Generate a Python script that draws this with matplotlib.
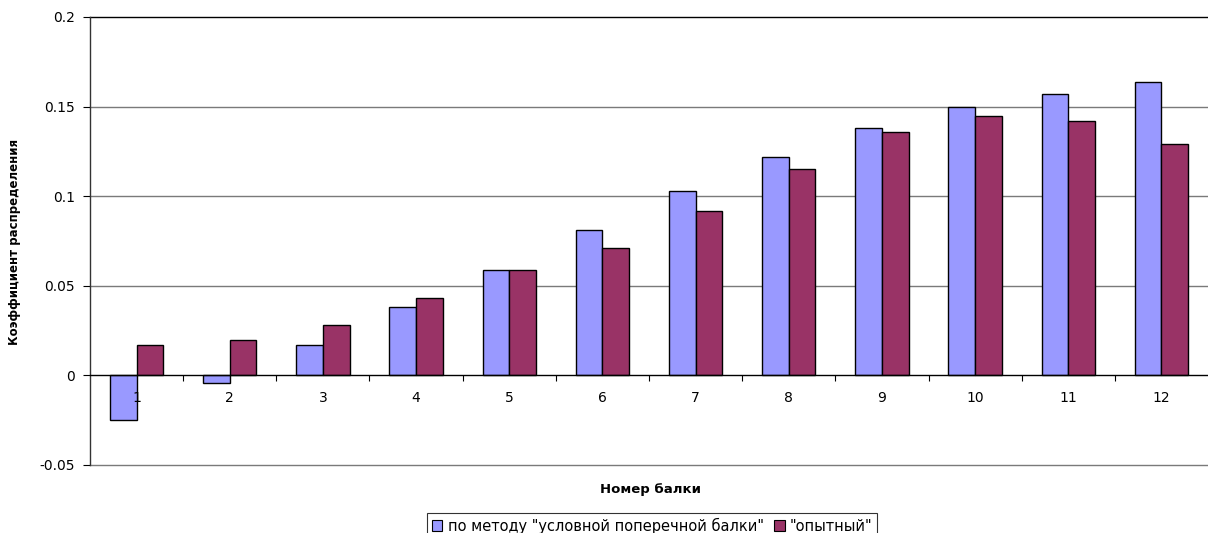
import numpy as np
import matplotlib
matplotlib.use("Agg")
import matplotlib.pyplot as plt
from matplotlib.patches import Patch
from matplotlib.ticker import FixedLocator

plt.rcParams['font.family'] = ['DejaVu Sans']

# Beam numbers and distribution coefficients
beams = ['1', '2', '3', '4', '5', '6', '7', '8', '9', '10', '11', '12']
method_values = [-0.025, -0.004, 0.017, 0.038, 0.059, 0.081,
                 0.103, 0.122, 0.138, 0.150, 0.157, 0.164]
test_values = [0.017, 0.020, 0.028, 0.043, 0.059, 0.071,
               0.092, 0.115, 0.136, 0.145, 0.142, 0.129]
series_names = ['по методу "условной поперечной балки"', '"опытный"']
y_ticks = [-0.05, 0.0, 0.05, 0.1, 0.15, 0.2]
y_tick_labels = ['-0.05', '0', '0.05', '0.1', '0.15', '0.2']

blue = '#9999FF'
wine = '#993366'

fig = plt.figure(figsize=(12.08, 5.33), dpi=100)
ax = fig.add_axes([90 / 1208, 1 - 465 / 533, 1118 / 1208, 448 / 533])

x = np.arange(len(beams))
w = 0.286
ax.bar(x - w / 2, method_values, width=w, color=blue, edgecolor='black',
       linewidth=1.0, zorder=3)
ax.bar(x + w / 2, test_values, width=w, color=wine, edgecolor='black',
       linewidth=1.0, zorder=3)

ax.set_xlim(-0.5, len(beams) - 0.5)
ax.set_ylim(-0.05, 0.2)

# Horizontal gridlines
for yv in y_ticks:
    if yv == 0.0:
        continue
    ax.axhline(yv, color='black' if yv == 0.2 else '#7a7a7a',
               linewidth=1.0, zorder=1, clip_on=False)

# Category axis sits at zero
ax.spines['bottom'].set_position(('data', 0))
ax.spines['bottom'].set_linewidth(1.0)
ax.spines['top'].set_visible(False)
ax.spines['right'].set_visible(False)
ax.spines['left'].set_linewidth(1.0)
ax.spines['left'].set_color('#333333')
ax.xaxis.set_zorder(5)
ax.spines['bottom'].set_zorder(5)

ax.set_xticks(x)
ax.set_xticklabels(beams, fontsize=10)
ax.tick_params(axis='x', which='major', length=0, pad=11)
ax.xaxis.set_minor_locator(FixedLocator(np.arange(0.5, len(beams) - 0.5, 1)))
ax.tick_params(axis='x', which='minor', length=4, direction='out', width=0.8)

ax.set_yticks(y_ticks)
ax.set_yticklabels(y_tick_labels, fontsize=10)
ax.tick_params(axis='y', length=5, direction='out', width=0.8, pad=6)

fig.text(650 / 1208, 1 - 489 / 533, 'Номер балки', ha='center', va='center',
         fontsize=9.5, fontweight='bold')
fig.text(15 / 1208, 1 - 242 / 533, 'Коэффициент распределения', ha='center',
         va='center', rotation=90, fontsize=8.5, fontweight='bold')

handles = [Patch(facecolor=blue, edgecolor='black', linewidth=0.8),
           Patch(facecolor=wine, edgecolor='black', linewidth=0.8)]
leg = fig.legend(handles, series_names, loc='upper center',
                 bbox_to_anchor=(652 / 1208, 1 - 513 / 533), ncol=2,
                 fontsize=10.5, frameon=True, fancybox=False, edgecolor='black',
                 handlelength=0.75, handleheight=0.75, handletextpad=0.35,
                 columnspacing=0.7, borderpad=0.3, borderaxespad=0)
leg.get_frame().set_linewidth(0.8)

fig.savefig('out.png', dpi=100)
